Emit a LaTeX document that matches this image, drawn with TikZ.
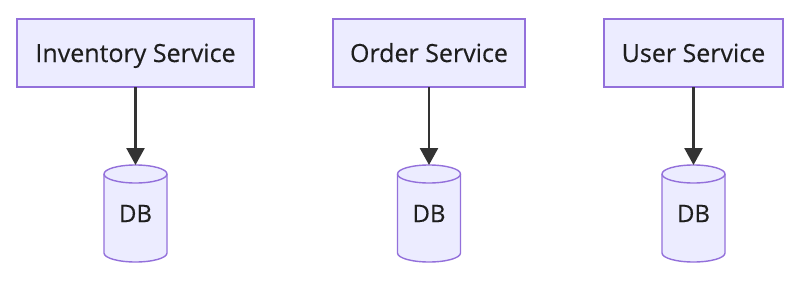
\documentclass[tikz,border=0pt]{standalone}
\usepackage{fontspec}
\setmainfont{Open Sans}
\usetikzlibrary{calc,arrows.meta}
\definecolor{boxfill}{HTML}{ECECFF}
\definecolor{boxline}{HTML}{9370DB}
\definecolor{arrowc}{HTML}{333333}
\definecolor{textc}{HTML}{1E1E1E}
\tikzset{
  svcbox/.style={draw=boxline, fill=boxfill, line width=1.4pt, minimum height=68pt, inner sep=0pt, outer sep=0pt, font=\fontsize{25}{28}\selectfont\addfontfeature{FakeBold=0.35}, text=textc, text height=22pt, text depth=4pt},
  dbnode/.style={minimum width=63pt, minimum height=97pt, inner sep=0pt, outer sep=0pt, font=\fontsize{24}{28}\selectfont\addfontfeature{FakeBold=0.35}, text=textc},
  dbline/.style={draw=boxline, line width=1.4pt},
  flow/.style={draw=arrowc, line width=2.6pt, -{Triangle[width=18pt,length=17pt]}},
}
\newcommand\dbcyl[1]{%
  \path[fill=boxfill, dbline] ($(#1.north west)+(0,-9pt)$) -- ($(#1.south west)+(0,9pt)$) arc (180:360:31.5pt and 9pt) -- ($(#1.north east)+(0,-9pt)$) arc (0:180:31.5pt and 9pt) -- cycle;
  \draw[dbline] ($(#1.north west)+(0,-9pt)$) arc (180:360:31.5pt and 9pt);
}
\begin{document}
\begin{tikzpicture}[x=1pt,y=1pt]
\useasboundingbox (0,0) rectangle (800,285);
\fill[white] (0,0) rectangle (800,285);
\node[svcbox, minimum width=237pt] (inv) at (135.5,232) {Inventory Service};
\node[svcbox, minimum width=192pt] (ord) at (429,232) {Order Service};
\node[svcbox, minimum width=179pt] (usr) at (693.5,232) {User Service};
\node[dbnode] (db1) at (135.5,71.5) {};
\node[dbnode] (db2) at (429,71.5) {};
\node[dbnode] (db3) at (693.5,71.5) {};
\dbcyl{db1}
\dbcyl{db2}
\dbcyl{db3}
\node[dbnode] at (db1) {DB};
\node[dbnode] at (db2) {DB};
\node[dbnode] at (db3) {DB};
\draw[flow] (inv.south) -- (db1.north);
\draw[flow] (ord.south) -- (db2.north);
\draw[flow] (usr.south) -- (db3.north);
\end{tikzpicture}
\end{document}
